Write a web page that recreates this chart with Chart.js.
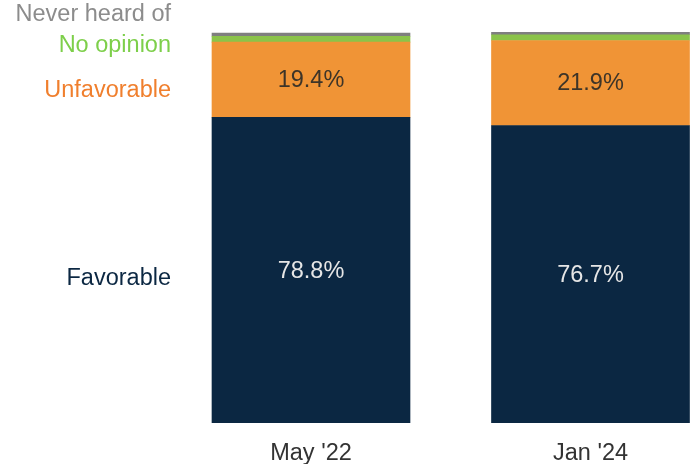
<!DOCTYPE html>
<html>
<head>
<meta charset="utf-8">
<script src="https://cdn.jsdelivr.net/npm/chart.js@4"></script>
<style>
  html, body { margin: 0; padding: 0; background: #ffffff; }
  #wrap { width: 691px; height: 466px; position: relative; }
</style>
</head>
<body>
<div id="wrap"><canvas id="c" width="691" height="466"></canvas></div>
<script>
const categories = ["May '22", "Jan '24"];
const favorable = [78.8, 76.7];
const unfavorable = [19.4, 21.9];
const noOpinion = [1.5, 1.5];
const neverHeard = [0.8, 0.7];
const seriesNames = ["Favorable", "Unfavorable", "No opinion", "Never heard of"];

const barColors = ["#0b2742", "#f09436", "#8bc34a", "#7f7f7f"];
const labelColors = ["#0b2742", "#f07f2d", "#7dcf4a", "#8c8c8c"];
const FONT = "'Liberation Sans', Arial, sans-serif";

function toXY(arr) { return arr.map((v, i) => ({ x: i, y: v })); }

const values = [favorable, unfavorable, noOpinion, neverHeard];
const totals = categories.map((c, i) => values.reduce((s, arr) => s + arr[i], 0));

const labelPlugin = {
  id: 'labels',
  afterDatasetsDraw(chart) {
    const ctx = chart.ctx;
    const ys = chart.scales.y;
    ctx.save();
    ctx.font = "23.5px " + FONT;
    ctx.textBaseline = 'middle';
    ctx.textAlign = 'center';
    [0, 1].forEach(di => {
      const meta = chart.getDatasetMeta(di);
      meta.data.forEach((bar, i) => {
        const v = chart.data.datasets[di].data[i].y;
        ctx.fillStyle = di === 0 ? '#e6e6e6' : '#3d3428';
        ctx.fillText(v.toFixed(1) + '%', bar.x, (bar.y + bar.base) / 2 + 1);
      });
    });
    ctx.textAlign = 'right';
    const xr = 171;
    const f0 = favorable[0], u0 = unfavorable[0];
    ctx.fillStyle = labelColors[0];
    ctx.fillText(seriesNames[0], xr, ys.getPixelForValue(f0 / 2) + 8);
    ctx.fillStyle = labelColors[1];
    ctx.fillText(seriesNames[1], xr, ys.getPixelForValue(f0 + u0 / 2) + 11);
    ctx.fillStyle = labelColors[2];
    ctx.fillText(seriesNames[2], xr, 46);
    ctx.fillStyle = labelColors[3];
    ctx.fillText(seriesNames[3], xr, 15);
    ctx.restore();
  }
};

new Chart(document.getElementById('c'), {
  type: 'bar',
  data: {
    datasets: values.map((arr, k) => ({
      label: seriesNames[k],
      data: toXY(arr),
      backgroundColor: barColors[k],
      borderWidth: 0,
      barThickness: 198
    }))
  },
  options: {
    responsive: false,
    animation: false,
    layout: { padding: { top: 32, left: 0, right: 0, bottom: 2 } },
    plugins: { legend: { display: false }, tooltip: { enabled: false } },
    scales: {
      x: {
        type: 'linear',
        stacked: true,
        offset: false,
        min: -311 / 279.5,
        max: 1 + (691 - 590.5) / 279.5,
        grid: { display: false, drawTicks: false, offset: false },
        border: { display: false },
        afterBuildTicks: (s) => { s.ticks = categories.map((c, i) => ({ value: i })); },
        afterFit: (s) => { s.height = 41; },
        ticks: {
          padding: 16,
          color: '#333333',
          maxRotation: 0,
          autoSkip: false,
          font: { size: 23.5, family: FONT },
          callback: (v) => categories[v] ?? ''
        }
      },
      y: {
        stacked: true,
        min: 0,
        max: Math.max(...totals),
        display: false
      }
    }
  },
  plugins: [labelPlugin]
});
</script>
</body>
</html>
